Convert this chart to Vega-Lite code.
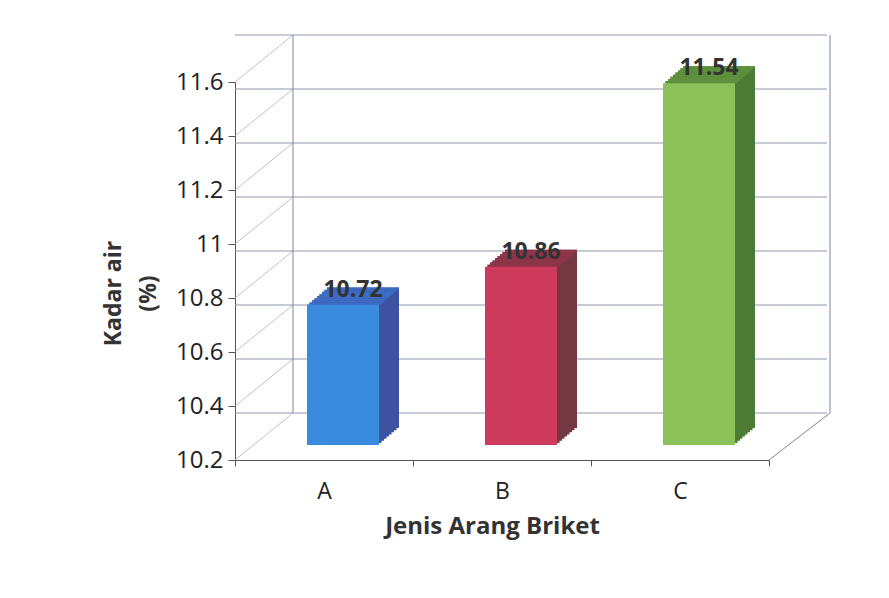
{
  "$schema": "https://vega.github.io/schema/vega-lite/v6.json",
  "width": 534,
  "height": 378,
  "autosize": {"type": "none"},
  "padding": {"left": 235, "top": 82, "right": 120, "bottom": 138},
  "background": "white",
  "config": {
    "view": {"stroke": null},
    "font": "Open Sans",
    "axisX": {
      "labelAngle": 0, "labelFontSize": 23, "labelColor": "#222", "labelPadding": 14,
      "tickBand": "extent", "tickSize": 6, "tickColor": "#555", "domainColor": "#555",
      "titleFontSize": 24, "titleFontWeight": "bold", "titleColor": "#333", "titlePadding": 11, "titleX": 257, "grid": false
    },
    "axisY": {
      "grid": false, "labelFontSize": 24, "labelColor": "#222", "labelPadding": 5,
      "tickSize": 7, "tickColor": "#555", "domainColor": "#555",
      "titleFontSize": 23, "titleFontWeight": "bold", "titleColor": "#333",
      "titleLineHeight": 35, "titlePadding": 15, "titleY": 211
    }
  },
  "datasets": {
    "bars": [
      {"jenis": "A", "kadar": 10.72},
      {"jenis": "B", "kadar": 10.86},
      {"jenis": "C", "kadar": 11.54}
    ],
    "grid": [
      {"g": 10.2}, {"g": 10.4}, {"g": 10.6}, {"g": 10.8},
      {"g": 11.0}, {"g": 11.2}, {"g": 11.4}, {"g": 11.6}
    ],
    "one": [{"k": 1}]
  },
  "layer": [
    {
      "data": {"name": "grid"},
      "mark": {"type": "rule", "color": "#8e98ab", "strokeWidth": 1, "xOffset": 58, "x2Offset": 61, "yOffset": -47},
      "encoding": {
        "y": {"field": "g", "type": "quantitative", "scale": {"domain": [10.2, 11.6], "zero": false, "nice": false}}
      }
    },
    {
      "data": {"name": "grid"},
      "mark": {"type": "rule", "color": "#aab2c2", "strokeWidth": 0.8, "x2Offset": 58, "y2Offset": -47},
      "encoding": {
        "x": {"value": 0},
        "x2": {"value": 0},
        "y": {"field": "g", "type": "quantitative", "scale": {"domain": [10.2, 11.6], "zero": false, "nice": false}},
        "y2": {"field": "g"}
      }
    },
    {
      "data": {"name": "one"},
      "mark": {"type": "rule", "color": "#7d879a", "strokeWidth": 1, "xOffset": 58, "yOffset": -47, "y2Offset": -47},
      "encoding": {
        "x": {"value": 0},
        "y": {"datum": 10.2, "type": "quantitative", "scale": {"domain": [10.2, 11.6], "zero": false, "nice": false}},
        "y2": {"datum": 11.6}
      }
    },
    {
      "data": {"name": "one"},
      "mark": {"type": "rule", "color": "#7d879a", "strokeWidth": 1, "xOffset": 61, "yOffset": -47, "y2Offset": -47},
      "encoding": {
        "x": {"value": "width"},
        "y": {"datum": 10.2, "type": "quantitative", "scale": {"domain": [10.2, 11.6], "zero": false, "nice": false}},
        "y2": {"datum": 11.6}
      }
    },
    {
      "data": {"name": "one"},
      "mark": {"type": "rule", "color": "#7d879a", "strokeWidth": 1, "x2Offset": 61, "y2Offset": -47},
      "encoding": {
        "x": {"value": "width"},
        "x2": {"value": "width"},
        "y": {"datum": 10.2, "type": "quantitative", "scale": {"domain": [10.2, 11.6], "zero": false, "nice": false}},
        "y2": {"datum": 10.2}
      }
    },
    {
      "data": {"name": "bars"},
      "mark": {"type": "bar", "width": 72, "xOffset": 39, "yOffset": -32, "y2Offset": -32},
      "encoding": {
        "x": {"field": "jenis", "type": "nominal", "scale": {"domain": ["A", "B", "C"], "paddingInner": 0, "paddingOuter": 0}},
        "y": {"field": "kadar", "type": "quantitative", "scale": {"domain": [10.2, 11.6], "zero": false, "nice": false}},
        "y2": {"datum": 10.2},
        "color": {"field": "jenis", "type": "nominal", "scale": {"domain": ["A", "B", "C"], "range": ["#3d52a0", "#733842", "#4c7b34"]}, "legend": null}
      }
    },
    {
      "data": {"name": "bars"},
      "mark": {"type": "bar", "width": 72, "xOffset": 36.5, "yOffset": -29.875, "y2Offset": -29.875},
      "encoding": {
        "x": {"field": "jenis", "type": "nominal", "scale": {"domain": ["A", "B", "C"], "paddingInner": 0, "paddingOuter": 0}},
        "y": {"field": "kadar", "type": "quantitative", "scale": {"domain": [10.2, 11.6], "zero": false, "nice": false}},
        "y2": {"datum": 10.2},
        "color": {"field": "jenis", "type": "nominal", "scale": {"domain": ["A", "B", "C"], "range": ["#3d52a0", "#733842", "#4c7b34"]}, "legend": null}
      }
    },
    {
      "data": {"name": "bars"},
      "mark": {"type": "bar", "width": 72, "xOffset": 34, "yOffset": -27.75, "y2Offset": -27.75},
      "encoding": {
        "x": {"field": "jenis", "type": "nominal", "scale": {"domain": ["A", "B", "C"], "paddingInner": 0, "paddingOuter": 0}},
        "y": {"field": "kadar", "type": "quantitative", "scale": {"domain": [10.2, 11.6], "zero": false, "nice": false}},
        "y2": {"datum": 10.2},
        "color": {"field": "jenis", "type": "nominal", "scale": {"domain": ["A", "B", "C"], "range": ["#3d52a0", "#733842", "#4c7b34"]}, "legend": null}
      }
    },
    {
      "data": {"name": "bars"},
      "mark": {"type": "bar", "width": 72, "xOffset": 31.5, "yOffset": -25.625, "y2Offset": -25.625},
      "encoding": {
        "x": {"field": "jenis", "type": "nominal", "scale": {"domain": ["A", "B", "C"], "paddingInner": 0, "paddingOuter": 0}},
        "y": {"field": "kadar", "type": "quantitative", "scale": {"domain": [10.2, 11.6], "zero": false, "nice": false}},
        "y2": {"datum": 10.2},
        "color": {"field": "jenis", "type": "nominal", "scale": {"domain": ["A", "B", "C"], "range": ["#3d52a0", "#733842", "#4c7b34"]}, "legend": null}
      }
    },
    {
      "data": {"name": "bars"},
      "mark": {"type": "bar", "width": 72, "xOffset": 29, "yOffset": -23.5, "y2Offset": -23.5},
      "encoding": {
        "x": {"field": "jenis", "type": "nominal", "scale": {"domain": ["A", "B", "C"], "paddingInner": 0, "paddingOuter": 0}},
        "y": {"field": "kadar", "type": "quantitative", "scale": {"domain": [10.2, 11.6], "zero": false, "nice": false}},
        "y2": {"datum": 10.2},
        "color": {"field": "jenis", "type": "nominal", "scale": {"domain": ["A", "B", "C"], "range": ["#3d52a0", "#733842", "#4c7b34"]}, "legend": null}
      }
    },
    {
      "data": {"name": "bars"},
      "mark": {"type": "bar", "width": 72, "xOffset": 26.5, "yOffset": -21.375, "y2Offset": -21.375},
      "encoding": {
        "x": {"field": "jenis", "type": "nominal", "scale": {"domain": ["A", "B", "C"], "paddingInner": 0, "paddingOuter": 0}},
        "y": {"field": "kadar", "type": "quantitative", "scale": {"domain": [10.2, 11.6], "zero": false, "nice": false}},
        "y2": {"datum": 10.2},
        "color": {"field": "jenis", "type": "nominal", "scale": {"domain": ["A", "B", "C"], "range": ["#3d52a0", "#733842", "#4c7b34"]}, "legend": null}
      }
    },
    {
      "data": {"name": "bars"},
      "mark": {"type": "bar", "width": 72, "xOffset": 24, "yOffset": -19.25, "y2Offset": -19.25},
      "encoding": {
        "x": {"field": "jenis", "type": "nominal", "scale": {"domain": ["A", "B", "C"], "paddingInner": 0, "paddingOuter": 0}},
        "y": {"field": "kadar", "type": "quantitative", "scale": {"domain": [10.2, 11.6], "zero": false, "nice": false}},
        "y2": {"datum": 10.2},
        "color": {"field": "jenis", "type": "nominal", "scale": {"domain": ["A", "B", "C"], "range": ["#3d52a0", "#733842", "#4c7b34"]}, "legend": null}
      }
    },
    {
      "data": {"name": "bars"},
      "mark": {"type": "bar", "width": 72, "xOffset": 21.5, "yOffset": -17.125, "y2Offset": -17.125},
      "encoding": {
        "x": {"field": "jenis", "type": "nominal", "scale": {"domain": ["A", "B", "C"], "paddingInner": 0, "paddingOuter": 0}},
        "y": {"field": "kadar", "type": "quantitative", "scale": {"domain": [10.2, 11.6], "zero": false, "nice": false}},
        "y2": {"datum": 10.2},
        "color": {"field": "jenis", "type": "nominal", "scale": {"domain": ["A", "B", "C"], "range": ["#3d52a0", "#733842", "#4c7b34"]}, "legend": null}
      }
    },
    {
      "data": {"name": "bars"},
      "mark": {"type": "bar", "width": 72, "xOffset": 39, "yOffset": -32, "y2Offset": -29.875},
      "encoding": {
        "x": {"field": "jenis", "type": "nominal", "scale": {"domain": ["A", "B", "C"], "paddingInner": 0, "paddingOuter": 0}},
        "y": {"field": "kadar", "type": "quantitative", "scale": {"domain": [10.2, 11.6], "zero": false, "nice": false}},
        "y2": {"field": "kadar"},
        "color": {"field": "jenis", "type": "nominal", "scale": {"domain": ["A", "B", "C"], "range": ["#3d6cc4", "#8f3449", "#5f913d"]}, "legend": null}
      }
    },
    {
      "data": {"name": "bars"},
      "mark": {"type": "bar", "width": 72, "xOffset": 36.5, "yOffset": -29.875, "y2Offset": -27.75},
      "encoding": {
        "x": {"field": "jenis", "type": "nominal", "scale": {"domain": ["A", "B", "C"], "paddingInner": 0, "paddingOuter": 0}},
        "y": {"field": "kadar", "type": "quantitative", "scale": {"domain": [10.2, 11.6], "zero": false, "nice": false}},
        "y2": {"field": "kadar"},
        "color": {"field": "jenis", "type": "nominal", "scale": {"domain": ["A", "B", "C"], "range": ["#3d6cc4", "#8f3449", "#5f913d"]}, "legend": null}
      }
    },
    {
      "data": {"name": "bars"},
      "mark": {"type": "bar", "width": 72, "xOffset": 34, "yOffset": -27.75, "y2Offset": -25.625},
      "encoding": {
        "x": {"field": "jenis", "type": "nominal", "scale": {"domain": ["A", "B", "C"], "paddingInner": 0, "paddingOuter": 0}},
        "y": {"field": "kadar", "type": "quantitative", "scale": {"domain": [10.2, 11.6], "zero": false, "nice": false}},
        "y2": {"field": "kadar"},
        "color": {"field": "jenis", "type": "nominal", "scale": {"domain": ["A", "B", "C"], "range": ["#3d6cc4", "#8f3449", "#5f913d"]}, "legend": null}
      }
    },
    {
      "data": {"name": "bars"},
      "mark": {"type": "bar", "width": 72, "xOffset": 31.5, "yOffset": -25.625, "y2Offset": -23.5},
      "encoding": {
        "x": {"field": "jenis", "type": "nominal", "scale": {"domain": ["A", "B", "C"], "paddingInner": 0, "paddingOuter": 0}},
        "y": {"field": "kadar", "type": "quantitative", "scale": {"domain": [10.2, 11.6], "zero": false, "nice": false}},
        "y2": {"field": "kadar"},
        "color": {"field": "jenis", "type": "nominal", "scale": {"domain": ["A", "B", "C"], "range": ["#3d6cc4", "#8f3449", "#5f913d"]}, "legend": null}
      }
    },
    {
      "data": {"name": "bars"},
      "mark": {"type": "bar", "width": 72, "xOffset": 29, "yOffset": -23.5, "y2Offset": -21.375},
      "encoding": {
        "x": {"field": "jenis", "type": "nominal", "scale": {"domain": ["A", "B", "C"], "paddingInner": 0, "paddingOuter": 0}},
        "y": {"field": "kadar", "type": "quantitative", "scale": {"domain": [10.2, 11.6], "zero": false, "nice": false}},
        "y2": {"field": "kadar"},
        "color": {"field": "jenis", "type": "nominal", "scale": {"domain": ["A", "B", "C"], "range": ["#3d6cc4", "#8f3449", "#5f913d"]}, "legend": null}
      }
    },
    {
      "data": {"name": "bars"},
      "mark": {"type": "bar", "width": 72, "xOffset": 26.5, "yOffset": -21.375, "y2Offset": -19.25},
      "encoding": {
        "x": {"field": "jenis", "type": "nominal", "scale": {"domain": ["A", "B", "C"], "paddingInner": 0, "paddingOuter": 0}},
        "y": {"field": "kadar", "type": "quantitative", "scale": {"domain": [10.2, 11.6], "zero": false, "nice": false}},
        "y2": {"field": "kadar"},
        "color": {"field": "jenis", "type": "nominal", "scale": {"domain": ["A", "B", "C"], "range": ["#3d6cc4", "#8f3449", "#5f913d"]}, "legend": null}
      }
    },
    {
      "data": {"name": "bars"},
      "mark": {"type": "bar", "width": 72, "xOffset": 24, "yOffset": -19.25, "y2Offset": -17.125},
      "encoding": {
        "x": {"field": "jenis", "type": "nominal", "scale": {"domain": ["A", "B", "C"], "paddingInner": 0, "paddingOuter": 0}},
        "y": {"field": "kadar", "type": "quantitative", "scale": {"domain": [10.2, 11.6], "zero": false, "nice": false}},
        "y2": {"field": "kadar"},
        "color": {"field": "jenis", "type": "nominal", "scale": {"domain": ["A", "B", "C"], "range": ["#3d6cc4", "#8f3449", "#5f913d"]}, "legend": null}
      }
    },
    {
      "data": {"name": "bars"},
      "mark": {"type": "bar", "width": 72, "xOffset": 21.5, "yOffset": -17.125, "y2Offset": -15},
      "encoding": {
        "x": {"field": "jenis", "type": "nominal", "scale": {"domain": ["A", "B", "C"], "paddingInner": 0, "paddingOuter": 0}},
        "y": {"field": "kadar", "type": "quantitative", "scale": {"domain": [10.2, 11.6], "zero": false, "nice": false}},
        "y2": {"field": "kadar"},
        "color": {"field": "jenis", "type": "nominal", "scale": {"domain": ["A", "B", "C"], "range": ["#3d6cc4", "#8f3449", "#5f913d"]}, "legend": null}
      }
    },
    {
      "data": {"name": "bars"},
      "mark": {"type": "bar", "width": 72, "xOffset": 19, "yOffset": -15, "y2Offset": -15},
      "encoding": {
        "x": {
          "field": "jenis", "type": "nominal",
          "scale": {"domain": ["A", "B", "C"], "paddingInner": 0, "paddingOuter": 0},
          "axis": {"title": "Jenis Arang Briket"}
        },
        "y": {
          "field": "kadar", "type": "quantitative",
          "scale": {"domain": [10.2, 11.6], "zero": false, "nice": false},
          "axis": {"title": ["Kadar air", "(%)"], "values": [10.2, 10.4, 10.6, 10.8, 11.0, 11.2, 11.4, 11.6], "format": "~g"}
        },
        "y2": {"datum": 10.2},
        "color": {"field": "jenis", "type": "nominal", "scale": {"domain": ["A", "B", "C"], "range": ["#3a8ade", "#cd3a5d", "#8cc15a"]}, "legend": null}
      }
    },
    {
      "data": {"name": "bars"},
      "mark": {"type": "text", "fontSize": 23, "fontWeight": "bold", "color": "#333", "xOffset": 29, "yOffset": -30, "baseline": "middle"},
      "encoding": {
        "x": {"field": "jenis", "type": "nominal", "scale": {"domain": ["A", "B", "C"], "paddingInner": 0, "paddingOuter": 0}},
        "y": {"field": "kadar", "type": "quantitative", "scale": {"domain": [10.2, 11.6], "zero": false, "nice": false}},
        "text": {"field": "kadar", "type": "quantitative", "format": ".2f"}
      }
    }
  ],
  "resolve": {"scale": {"color": "independent"}}
}
